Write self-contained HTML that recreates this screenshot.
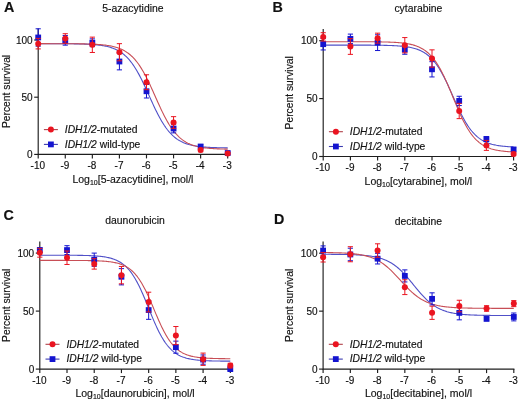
<!DOCTYPE html>
<html><head><meta charset="utf-8"><style>
html,body{margin:0;padding:0;background:#fff;}
body{width:520px;height:402px;overflow:hidden;}
svg{display:block;font-family:"Liberation Sans", sans-serif;filter:blur(0.35px);}
text{stroke:#111;stroke-width:0.15px;}
</style></head><body>
<svg width="520" height="402" viewBox="0 0 520 402">
<rect width="520" height="402" fill="#fff"/>
<text x="4" y="12.1" font-size="14.3" font-weight="bold" fill="#111">A</text>
<text x="132.95" y="12.20" font-size="10.4" text-anchor="middle" fill="#111">5-azacytidine</text>
<path d="M38.20,28.56 V154.40 H228.30" stroke="#1e1e1e" stroke-width="1.15" fill="none"/>
<path d="M34.20,154.40 H38.20" stroke="#1e1e1e" stroke-width="1.15"/>
<text x="32.60" y="157.90" font-size="10" text-anchor="end" fill="#111">0</text>
<path d="M34.20,97.20 H38.20" stroke="#1e1e1e" stroke-width="1.15"/>
<text x="32.60" y="100.70" font-size="10" text-anchor="end" fill="#111">50</text>
<path d="M34.20,40.00 H38.20" stroke="#1e1e1e" stroke-width="1.15"/>
<text x="32.60" y="43.50" font-size="10" text-anchor="end" fill="#111">100</text>
<path d="M38.20,154.40 V158.40" stroke="#1e1e1e" stroke-width="1.15"/>
<text x="37.80" y="168.90" font-size="10" text-anchor="middle" fill="#111">-10</text>
<path d="M65.27,154.40 V158.40" stroke="#1e1e1e" stroke-width="1.15"/>
<text x="64.87" y="168.90" font-size="10" text-anchor="middle" fill="#111">-9</text>
<path d="M92.34,154.40 V158.40" stroke="#1e1e1e" stroke-width="1.15"/>
<text x="91.94" y="168.90" font-size="10" text-anchor="middle" fill="#111">-8</text>
<path d="M119.41,154.40 V158.40" stroke="#1e1e1e" stroke-width="1.15"/>
<text x="119.01" y="168.90" font-size="10" text-anchor="middle" fill="#111">-7</text>
<path d="M146.49,154.40 V158.40" stroke="#1e1e1e" stroke-width="1.15"/>
<text x="146.09" y="168.90" font-size="10" text-anchor="middle" fill="#111">-6</text>
<path d="M173.56,154.40 V158.40" stroke="#1e1e1e" stroke-width="1.15"/>
<text x="173.16" y="168.90" font-size="10" text-anchor="middle" fill="#111">-5</text>
<path d="M200.63,154.40 V158.40" stroke="#1e1e1e" stroke-width="1.15"/>
<text x="200.23" y="168.90" font-size="10" text-anchor="middle" fill="#111">-4</text>
<path d="M227.70,154.40 V158.40" stroke="#1e1e1e" stroke-width="1.15"/>
<text x="227.30" y="168.90" font-size="10" text-anchor="middle" fill="#111">-3</text>
<text x="132.95" y="182.60" font-size="10.5" text-anchor="middle" fill="#111">Log<tspan font-size="7" dy="2">10</tspan><tspan dy="-2">[5-azacytidine], mol/l</tspan></text>
<text transform="translate(9.5,91.48) rotate(-90)" font-size="10.3" text-anchor="middle" fill="#111">Percent survival</text>
<path d="M38.20,43.67 L39.15,43.67 L40.10,43.67 L41.04,43.67 L41.99,43.67 L42.94,43.67 L43.89,43.67 L44.83,43.68 L45.78,43.68 L46.73,43.68 L47.67,43.68 L48.62,43.68 L49.57,43.68 L50.52,43.68 L51.47,43.69 L52.41,43.69 L53.36,43.69 L54.31,43.69 L55.26,43.70 L56.20,43.70 L57.15,43.70 L58.10,43.71 L59.04,43.71 L59.99,43.71 L60.94,43.72 L61.89,43.72 L62.84,43.73 L63.78,43.73 L64.73,43.74 L65.68,43.75 L66.63,43.75 L67.57,43.76 L68.52,43.77 L69.47,43.78 L70.41,43.79 L71.36,43.80 L72.31,43.81 L73.26,43.82 L74.21,43.84 L75.15,43.85 L76.10,43.87 L77.05,43.89 L78.00,43.90 L78.94,43.93 L79.89,43.95 L80.84,43.97 L81.78,44.00 L82.73,44.03 L83.68,44.06 L84.63,44.09 L85.58,44.12 L86.52,44.16 L87.47,44.21 L88.42,44.25 L89.37,44.30 L90.31,44.35 L91.26,44.41 L92.21,44.47 L93.15,44.54 L94.10,44.61 L95.05,44.69 L96.00,44.78 L96.95,44.87 L97.89,44.97 L98.84,45.08 L99.79,45.20 L100.74,45.33 L101.68,45.46 L102.63,45.61 L103.58,45.77 L104.53,45.95 L105.47,46.13 L106.42,46.33 L107.37,46.55 L108.31,46.79 L109.26,47.04 L110.21,47.32 L111.16,47.61 L112.11,47.93 L113.05,48.27 L114.00,48.64 L114.95,49.04 L115.90,49.46 L116.84,49.92 L117.79,50.41 L118.74,50.94 L119.69,51.50 L120.63,52.11 L121.58,52.76 L122.53,53.45 L123.48,54.19 L124.42,54.97 L125.37,55.81 L126.32,56.70 L127.27,57.65 L128.21,58.66 L129.16,59.72 L130.11,60.85 L131.06,62.04 L132.00,63.29 L132.95,64.61 L133.90,65.99 L134.85,67.44 L135.79,68.95 L136.74,70.52 L137.69,72.16 L138.63,73.86 L139.58,75.62 L140.53,77.43 L141.48,79.30 L142.43,81.21 L143.37,83.17 L144.32,85.17 L145.27,87.20 L146.22,89.26 L147.16,91.33 L148.11,93.43 L149.06,95.53 L150.00,97.63 L150.95,99.72 L151.90,101.81 L152.85,103.87 L153.80,105.91 L154.74,107.92 L155.69,109.89 L156.64,111.81 L157.59,113.69 L158.53,115.52 L159.48,117.30 L160.43,119.01 L161.38,120.67 L162.32,122.26 L163.27,123.79 L164.22,125.26 L165.17,126.66 L166.11,127.99 L167.06,129.27 L168.01,130.47 L168.95,131.62 L169.90,132.70 L170.85,133.72 L171.80,134.68 L172.75,135.59 L173.69,136.45 L174.64,137.25 L175.59,138.00 L176.54,138.71 L177.48,139.37 L178.43,139.98 L179.38,140.56 L180.32,141.10 L181.27,141.60 L182.22,142.06 L183.17,142.50 L184.12,142.90 L185.06,143.28 L186.01,143.63 L186.96,143.95 L187.91,144.26 L188.85,144.54 L189.80,144.80 L190.75,145.04 L191.69,145.26 L192.64,145.47 L193.59,145.66 L194.54,145.83 L195.49,146.00 L196.43,146.15 L197.38,146.29 L198.33,146.42 L199.28,146.54 L200.22,146.65 L201.17,146.75 L202.12,146.85 L203.06,146.94 L204.01,147.02 L204.96,147.09 L205.91,147.16 L206.86,147.23 L207.80,147.28 L208.75,147.34 L209.70,147.39 L210.65,147.44 L211.59,147.48 L212.54,147.52 L213.49,147.56 L214.44,147.59 L215.38,147.62 L216.33,147.65 L217.28,147.68 L218.23,147.70 L219.17,147.72 L220.12,147.74 L221.07,147.76 L222.01,147.78 L222.96,147.80 L223.91,147.81 L224.86,147.83 L225.81,147.84 L226.75,147.85 L227.70,147.86" stroke="#5050c8" stroke-width="1.1" fill="none"/>
<path d="M38.20,43.67 L39.15,43.67 L40.10,43.67 L41.04,43.67 L41.99,43.67 L42.94,43.67 L43.89,43.67 L44.83,43.67 L45.78,43.67 L46.73,43.67 L47.67,43.67 L48.62,43.67 L49.57,43.67 L50.52,43.68 L51.47,43.68 L52.41,43.68 L53.36,43.68 L54.31,43.68 L55.26,43.68 L56.20,43.68 L57.15,43.69 L58.10,43.69 L59.04,43.69 L59.99,43.69 L60.94,43.70 L61.89,43.70 L62.84,43.70 L63.78,43.70 L64.73,43.71 L65.68,43.71 L66.63,43.72 L67.57,43.72 L68.52,43.73 L69.47,43.73 L70.41,43.74 L71.36,43.74 L72.31,43.75 L73.26,43.76 L74.21,43.77 L75.15,43.78 L76.10,43.79 L77.05,43.80 L78.00,43.81 L78.94,43.82 L79.89,43.83 L80.84,43.85 L81.78,43.86 L82.73,43.88 L83.68,43.90 L84.63,43.92 L85.58,43.94 L86.52,43.96 L87.47,43.99 L88.42,44.02 L89.37,44.05 L90.31,44.08 L91.26,44.11 L92.21,44.15 L93.15,44.19 L94.10,44.24 L95.05,44.29 L96.00,44.34 L96.95,44.40 L97.89,44.46 L98.84,44.52 L99.79,44.59 L100.74,44.67 L101.68,44.76 L102.63,44.85 L103.58,44.95 L104.53,45.05 L105.47,45.17 L106.42,45.29 L107.37,45.43 L108.31,45.57 L109.26,45.73 L110.21,45.90 L111.16,46.08 L112.11,46.28 L113.05,46.49 L114.00,46.73 L114.95,46.97 L115.90,47.24 L116.84,47.53 L117.79,47.84 L118.74,48.18 L119.69,48.54 L120.63,48.93 L121.58,49.35 L122.53,49.80 L123.48,50.28 L124.42,50.80 L125.37,51.36 L126.32,51.95 L127.27,52.59 L128.21,53.27 L129.16,54.00 L130.11,54.77 L131.06,55.60 L132.00,56.48 L132.95,57.42 L133.90,58.41 L134.85,59.46 L135.79,60.58 L136.74,61.76 L137.69,63.00 L138.63,64.30 L139.58,65.67 L140.53,67.11 L141.48,68.62 L142.43,70.18 L143.37,71.82 L144.32,73.51 L145.27,75.27 L146.22,77.08 L147.16,78.95 L148.11,80.87 L149.06,82.84 L150.00,84.84 L150.95,86.89 L151.90,88.96 L152.85,91.06 L153.80,93.17 L154.74,95.30 L155.69,97.43 L156.64,99.55 L157.59,101.67 L158.53,103.77 L159.48,105.85 L160.43,107.89 L161.38,109.91 L162.32,111.88 L163.27,113.80 L164.22,115.68 L165.17,117.50 L166.11,119.27 L167.06,120.97 L168.01,122.61 L168.95,124.19 L169.90,125.70 L170.85,127.15 L171.80,128.53 L172.75,129.85 L173.69,131.10 L174.64,132.28 L175.59,133.41 L176.54,134.47 L177.48,135.47 L178.43,136.41 L179.38,137.30 L180.32,138.14 L181.27,138.92 L182.22,139.66 L183.17,140.34 L184.12,140.99 L185.06,141.59 L186.01,142.15 L186.96,142.67 L187.91,143.16 L188.85,143.61 L189.80,144.04 L190.75,144.43 L191.69,144.80 L192.64,145.14 L193.59,145.45 L194.54,145.74 L195.49,146.02 L196.43,146.27 L197.38,146.50 L198.33,146.72 L199.28,146.92 L200.22,147.10 L201.17,147.28 L202.12,147.43 L203.06,147.58 L204.01,147.72 L204.96,147.84 L205.91,147.96 L206.86,148.07 L207.80,148.17 L208.75,148.26 L209.70,148.34 L210.65,148.42 L211.59,148.49 L212.54,148.56 L213.49,148.62 L214.44,148.68 L215.38,148.73 L216.33,148.78 L217.28,148.83 L218.23,148.87 L219.17,148.91 L220.12,148.94 L221.07,148.98 L222.01,149.01 L222.96,149.03 L223.91,149.06 L224.86,149.08 L225.81,149.10 L226.75,149.12 L227.70,149.14" stroke="#c84e56" stroke-width="1.1" fill="none"/>
<path d="M38.20,28.79 V46.18 M35.60,28.79 H40.80 M35.60,46.18 H40.80" stroke="#1414d0" stroke-width="1" fill="none"/>
<rect x="35.30" y="34.58" width="5.8" height="5.8" fill="#1414d0"/>
<path d="M65.27,35.54 V45.15 M62.67,35.54 H67.87 M62.67,45.15 H67.87" stroke="#1414d0" stroke-width="1" fill="none"/>
<rect x="62.37" y="37.44" width="5.8" height="5.8" fill="#1414d0"/>
<path d="M92.34,38.86 V46.64 M89.74,38.86 H94.94 M89.74,46.64 H94.94" stroke="#1414d0" stroke-width="1" fill="none"/>
<rect x="89.44" y="39.85" width="5.8" height="5.8" fill="#1414d0"/>
<path d="M119.41,53.16 V69.86 M116.81,53.16 H122.01 M116.81,69.86 H122.01" stroke="#1414d0" stroke-width="1" fill="none"/>
<rect x="116.51" y="58.61" width="5.8" height="5.8" fill="#1414d0"/>
<path d="M146.49,84.50 V98.00 M143.89,84.50 H149.09 M143.89,98.00 H149.09" stroke="#1414d0" stroke-width="1" fill="none"/>
<rect x="143.59" y="88.35" width="5.8" height="5.8" fill="#1414d0"/>
<path d="M173.56,124.20 V132.89 M170.96,124.20 H176.16 M170.96,132.89 H176.16" stroke="#1414d0" stroke-width="1" fill="none"/>
<rect x="170.66" y="125.65" width="5.8" height="5.8" fill="#1414d0"/>
<path d="M200.63,144.79 V148.22 M198.03,144.79 H203.23 M198.03,148.22 H203.23" stroke="#1414d0" stroke-width="1" fill="none"/>
<rect x="197.73" y="143.61" width="5.8" height="5.8" fill="#1414d0"/>
<path d="M227.70,151.88 V154.17 M225.10,151.88 H230.30 M225.10,154.17 H230.30" stroke="#1414d0" stroke-width="1" fill="none"/>
<rect x="224.80" y="150.13" width="5.8" height="5.8" fill="#1414d0"/>
<path d="M38.20,38.40 V48.92 M35.60,38.40 H40.80 M35.60,48.92 H40.80" stroke="#ea1420" stroke-width="1" fill="none"/>
<circle cx="38.20" cy="43.66" r="3.0" fill="#ea1420"/>
<path d="M65.27,33.71 V43.32 M62.67,33.71 H67.87 M62.67,43.32 H67.87" stroke="#ea1420" stroke-width="1" fill="none"/>
<circle cx="65.27" cy="38.51" r="3.0" fill="#ea1420"/>
<path d="M92.34,37.14 V52.47 M89.74,37.14 H94.94 M89.74,52.47 H94.94" stroke="#ea1420" stroke-width="1" fill="none"/>
<circle cx="92.34" cy="44.80" r="3.0" fill="#ea1420"/>
<path d="M119.41,43.66 V60.82 M116.81,43.66 H122.01 M116.81,60.82 H122.01" stroke="#ea1420" stroke-width="1" fill="none"/>
<circle cx="119.41" cy="52.24" r="3.0" fill="#ea1420"/>
<path d="M146.49,74.78 V89.65 M143.89,74.78 H149.09 M143.89,89.65 H149.09" stroke="#ea1420" stroke-width="1" fill="none"/>
<circle cx="146.49" cy="82.21" r="3.0" fill="#ea1420"/>
<path d="M173.56,116.65 V128.32 M170.96,116.65 H176.16 M170.96,128.32 H176.16" stroke="#ea1420" stroke-width="1" fill="none"/>
<circle cx="173.56" cy="122.48" r="3.0" fill="#ea1420"/>
<path d="M200.63,148.34 V151.77 M198.03,148.34 H203.23 M198.03,151.77 H203.23" stroke="#ea1420" stroke-width="1" fill="none"/>
<circle cx="200.63" cy="150.05" r="3.0" fill="#ea1420"/>
<path d="M227.70,152.46 V154.74 M225.10,152.46 H230.30 M225.10,154.74 H230.30" stroke="#ea1420" stroke-width="1" fill="none"/>
<circle cx="227.70" cy="153.60" r="3.0" fill="#ea1420"/>
<path d="M43.90,129.60 H57.90" stroke="#b04048" stroke-width="1.1"/>
<circle cx="50.90" cy="129.60" r="3.0" fill="#ea1420"/>
<text x="64.80" y="132.80" font-size="10.3" fill="#111"><tspan font-style="italic">IDH1/2</tspan>-mutated</text>
<path d="M43.90,144.40 H57.90" stroke="#3c3cb0" stroke-width="1.1"/>
<rect x="48.00" y="141.50" width="5.8" height="5.8" fill="#1414d0"/>
<text x="64.80" y="147.60" font-size="10.3" fill="#111"><tspan font-style="italic">IDH1/2</tspan> wild-type</text>
<text x="272.4" y="12.3" font-size="14.3" font-weight="bold" fill="#111">B</text>
<text x="418.40" y="12.30" font-size="10.4" text-anchor="middle" fill="#111">cytarabine</text>
<path d="M323.20,29.12 V156.50 H514.20" stroke="#1e1e1e" stroke-width="1.15" fill="none"/>
<path d="M319.20,156.50 H323.20" stroke="#1e1e1e" stroke-width="1.15"/>
<text x="317.60" y="160.00" font-size="10" text-anchor="end" fill="#111">0</text>
<path d="M319.20,98.60 H323.20" stroke="#1e1e1e" stroke-width="1.15"/>
<text x="317.60" y="102.10" font-size="10" text-anchor="end" fill="#111">50</text>
<path d="M319.20,40.70 H323.20" stroke="#1e1e1e" stroke-width="1.15"/>
<text x="317.60" y="44.20" font-size="10" text-anchor="end" fill="#111">100</text>
<path d="M323.20,156.50 V160.50" stroke="#1e1e1e" stroke-width="1.15"/>
<text x="322.80" y="171.00" font-size="10" text-anchor="middle" fill="#111">-10</text>
<path d="M350.40,156.50 V160.50" stroke="#1e1e1e" stroke-width="1.15"/>
<text x="350.00" y="171.00" font-size="10" text-anchor="middle" fill="#111">-9</text>
<path d="M377.60,156.50 V160.50" stroke="#1e1e1e" stroke-width="1.15"/>
<text x="377.20" y="171.00" font-size="10" text-anchor="middle" fill="#111">-8</text>
<path d="M404.80,156.50 V160.50" stroke="#1e1e1e" stroke-width="1.15"/>
<text x="404.40" y="171.00" font-size="10" text-anchor="middle" fill="#111">-7</text>
<path d="M432.00,156.50 V160.50" stroke="#1e1e1e" stroke-width="1.15"/>
<text x="431.60" y="171.00" font-size="10" text-anchor="middle" fill="#111">-6</text>
<path d="M459.20,156.50 V160.50" stroke="#1e1e1e" stroke-width="1.15"/>
<text x="458.80" y="171.00" font-size="10" text-anchor="middle" fill="#111">-5</text>
<path d="M486.40,156.50 V160.50" stroke="#1e1e1e" stroke-width="1.15"/>
<text x="486.00" y="171.00" font-size="10" text-anchor="middle" fill="#111">-4</text>
<path d="M513.60,156.50 V160.50" stroke="#1e1e1e" stroke-width="1.15"/>
<text x="513.20" y="171.00" font-size="10" text-anchor="middle" fill="#111">-3</text>
<text x="418.40" y="184.70" font-size="10.5" text-anchor="middle" fill="#111">Log<tspan font-size="7" dy="2">10</tspan><tspan dy="-2">[cytarabine], mol/l</tspan></text>
<text transform="translate(293.3,92.81) rotate(-90)" font-size="10.3" text-anchor="middle" fill="#111">Percent survival</text>
<path d="M323.20,45.10 L324.15,45.10 L325.10,45.10 L326.06,45.10 L327.01,45.10 L327.96,45.10 L328.91,45.10 L329.86,45.10 L330.82,45.10 L331.77,45.10 L332.72,45.10 L333.67,45.10 L334.62,45.10 L335.58,45.10 L336.53,45.10 L337.48,45.10 L338.43,45.10 L339.38,45.10 L340.34,45.11 L341.29,45.11 L342.24,45.11 L343.19,45.11 L344.14,45.11 L345.10,45.11 L346.05,45.11 L347.00,45.11 L347.95,45.11 L348.90,45.11 L349.86,45.11 L350.81,45.11 L351.76,45.11 L352.71,45.12 L353.66,45.12 L354.62,45.12 L355.57,45.12 L356.52,45.12 L357.47,45.12 L358.42,45.12 L359.38,45.13 L360.33,45.13 L361.28,45.13 L362.23,45.13 L363.18,45.14 L364.14,45.14 L365.09,45.14 L366.04,45.15 L366.99,45.15 L367.94,45.16 L368.90,45.16 L369.85,45.17 L370.80,45.17 L371.75,45.18 L372.70,45.19 L373.66,45.19 L374.61,45.20 L375.56,45.21 L376.51,45.22 L377.46,45.23 L378.42,45.24 L379.37,45.26 L380.32,45.27 L381.27,45.28 L382.22,45.30 L383.18,45.32 L384.13,45.34 L385.08,45.36 L386.03,45.38 L386.98,45.40 L387.94,45.43 L388.89,45.46 L389.84,45.49 L390.79,45.52 L391.74,45.56 L392.70,45.60 L393.65,45.65 L394.60,45.69 L395.55,45.74 L396.50,45.80 L397.46,45.86 L398.41,45.93 L399.36,46.00 L400.31,46.08 L401.26,46.16 L402.22,46.25 L403.17,46.35 L404.12,46.46 L405.07,46.58 L406.02,46.71 L406.98,46.84 L407.93,46.99 L408.88,47.16 L409.83,47.33 L410.78,47.52 L411.74,47.73 L412.69,47.95 L413.64,48.20 L414.59,48.46 L415.54,48.74 L416.50,49.05 L417.45,49.38 L418.40,49.74 L419.35,50.13 L420.30,50.54 L421.26,50.99 L422.21,51.48 L423.16,52.00 L424.11,52.56 L425.06,53.16 L426.02,53.81 L426.97,54.50 L427.92,55.24 L428.87,56.03 L429.82,56.88 L430.78,57.78 L431.73,58.75 L432.68,59.77 L433.63,60.86 L434.58,62.01 L435.54,63.23 L436.49,64.52 L437.44,65.87 L438.39,67.30 L439.34,68.79 L440.30,70.35 L441.25,71.99 L442.20,73.68 L443.15,75.44 L444.10,77.27 L445.06,79.15 L446.01,81.08 L446.96,83.06 L447.91,85.09 L448.86,87.15 L449.82,89.25 L450.77,91.37 L451.72,93.50 L452.67,95.65 L453.62,97.79 L454.58,99.94 L455.53,102.07 L456.48,104.18 L457.43,106.26 L458.38,108.31 L459.34,110.31 L460.29,112.28 L461.24,114.19 L462.19,116.04 L463.14,117.84 L464.10,119.57 L465.05,121.24 L466.00,122.85 L466.95,124.38 L467.90,125.84 L468.86,127.24 L469.81,128.56 L470.76,129.82 L471.71,131.01 L472.66,132.14 L473.62,133.20 L474.57,134.19 L475.52,135.13 L476.47,136.01 L477.42,136.84 L478.38,137.61 L479.33,138.33 L480.28,139.00 L481.23,139.63 L482.18,140.21 L483.14,140.75 L484.09,141.26 L485.04,141.73 L485.99,142.16 L486.94,142.56 L487.90,142.94 L488.85,143.29 L489.80,143.61 L490.75,143.90 L491.70,144.18 L492.66,144.43 L493.61,144.67 L494.56,144.88 L495.51,145.08 L496.46,145.27 L497.42,145.44 L498.37,145.59 L499.32,145.74 L500.27,145.87 L501.22,145.99 L502.18,146.11 L503.13,146.21 L504.08,146.31 L505.03,146.40 L505.98,146.48 L506.94,146.55 L507.89,146.62 L508.84,146.69 L509.79,146.75 L510.74,146.80 L511.70,146.85 L512.65,146.90 L513.60,146.94" stroke="#5050c8" stroke-width="1.1" fill="none"/>
<path d="M323.20,41.71 L324.15,41.71 L325.10,41.71 L326.06,41.71 L327.01,41.71 L327.96,41.71 L328.91,41.71 L329.86,41.71 L330.82,41.71 L331.77,41.71 L332.72,41.71 L333.67,41.71 L334.62,41.71 L335.58,41.71 L336.53,41.71 L337.48,41.71 L338.43,41.71 L339.38,41.71 L340.34,41.71 L341.29,41.71 L342.24,41.71 L343.19,41.71 L344.14,41.72 L345.10,41.72 L346.05,41.72 L347.00,41.72 L347.95,41.72 L348.90,41.72 L349.86,41.72 L350.81,41.72 L351.76,41.72 L352.71,41.72 L353.66,41.73 L354.62,41.73 L355.57,41.73 L356.52,41.73 L357.47,41.73 L358.42,41.73 L359.38,41.74 L360.33,41.74 L361.28,41.74 L362.23,41.75 L363.18,41.75 L364.14,41.75 L365.09,41.76 L366.04,41.76 L366.99,41.77 L367.94,41.77 L368.90,41.78 L369.85,41.78 L370.80,41.79 L371.75,41.80 L372.70,41.80 L373.66,41.81 L374.61,41.82 L375.56,41.83 L376.51,41.84 L377.46,41.85 L378.42,41.87 L379.37,41.88 L380.32,41.89 L381.27,41.91 L382.22,41.93 L383.18,41.95 L384.13,41.97 L385.08,41.99 L386.03,42.02 L386.98,42.04 L387.94,42.07 L388.89,42.10 L389.84,42.14 L390.79,42.18 L391.74,42.22 L392.70,42.26 L393.65,42.31 L394.60,42.36 L395.55,42.42 L396.50,42.48 L397.46,42.55 L398.41,42.62 L399.36,42.70 L400.31,42.78 L401.26,42.88 L402.22,42.98 L403.17,43.09 L404.12,43.21 L405.07,43.33 L406.02,43.47 L406.98,43.62 L407.93,43.79 L408.88,43.97 L409.83,44.16 L410.78,44.37 L411.74,44.59 L412.69,44.84 L413.64,45.10 L414.59,45.39 L415.54,45.70 L416.50,46.04 L417.45,46.40 L418.40,46.79 L419.35,47.21 L420.30,47.66 L421.26,48.15 L422.21,48.68 L423.16,49.25 L424.11,49.86 L425.06,50.51 L426.02,51.21 L426.97,51.97 L427.92,52.77 L428.87,53.63 L429.82,54.55 L430.78,55.53 L431.73,56.58 L432.68,57.69 L433.63,58.87 L434.58,60.11 L435.54,61.43 L436.49,62.83 L437.44,64.29 L438.39,65.84 L439.34,67.45 L440.30,69.14 L441.25,70.91 L442.20,72.74 L443.15,74.64 L444.10,76.61 L445.06,78.64 L446.01,80.73 L446.96,82.87 L447.91,85.05 L448.86,87.28 L449.82,89.54 L450.77,91.83 L451.72,94.13 L452.67,96.44 L453.62,98.76 L454.58,101.07 L455.53,103.37 L456.48,105.64 L457.43,107.89 L458.38,110.10 L459.34,112.27 L460.29,114.39 L461.24,116.45 L462.19,118.45 L463.14,120.39 L464.10,122.27 L465.05,124.07 L466.00,125.80 L466.95,127.46 L467.90,129.05 L468.86,130.56 L469.81,131.99 L470.76,133.35 L471.71,134.64 L472.66,135.86 L473.62,137.01 L474.57,138.09 L475.52,139.11 L476.47,140.06 L477.42,140.96 L478.38,141.79 L479.33,142.58 L480.28,143.31 L481.23,143.99 L482.18,144.62 L483.14,145.21 L484.09,145.76 L485.04,146.27 L485.99,146.75 L486.94,147.19 L487.90,147.60 L488.85,147.97 L489.80,148.32 L490.75,148.65 L491.70,148.95 L492.66,149.22 L493.61,149.48 L494.56,149.72 L495.51,149.94 L496.46,150.14 L497.42,150.32 L498.37,150.50 L499.32,150.65 L500.27,150.80 L501.22,150.93 L502.18,151.06 L503.13,151.17 L504.08,151.28 L505.03,151.38 L505.98,151.47 L506.94,151.55 L507.89,151.63 L508.84,151.70 L509.79,151.76 L510.74,151.82 L511.70,151.87 L512.65,151.92 L513.60,151.97" stroke="#c84e56" stroke-width="1.1" fill="none"/>
<path d="M323.20,38.38 V49.96 M320.60,38.38 H325.80 M320.60,49.96 H325.80" stroke="#1414d0" stroke-width="1" fill="none"/>
<rect x="320.30" y="41.27" width="5.8" height="5.8" fill="#1414d0"/>
<path d="M350.40,34.10 V43.60 M347.80,34.10 H353.00 M347.80,43.60 H353.00" stroke="#1414d0" stroke-width="1" fill="none"/>
<rect x="347.50" y="35.95" width="5.8" height="5.8" fill="#1414d0"/>
<path d="M377.60,34.79 V50.54 M375.00,34.79 H380.20 M375.00,50.54 H380.20" stroke="#1414d0" stroke-width="1" fill="none"/>
<rect x="374.70" y="39.77" width="5.8" height="5.8" fill="#1414d0"/>
<path d="M404.80,44.98 V54.25 M402.20,44.98 H407.40 M402.20,54.25 H407.40" stroke="#1414d0" stroke-width="1" fill="none"/>
<rect x="401.90" y="46.72" width="5.8" height="5.8" fill="#1414d0"/>
<path d="M432.00,61.66 V76.95 M429.40,61.66 H434.60 M429.40,76.95 H434.60" stroke="#1414d0" stroke-width="1" fill="none"/>
<rect x="429.10" y="66.40" width="5.8" height="5.8" fill="#1414d0"/>
<path d="M459.20,96.28 V105.55 M456.60,96.28 H461.80 M456.60,105.55 H461.80" stroke="#1414d0" stroke-width="1" fill="none"/>
<rect x="456.30" y="98.02" width="5.8" height="5.8" fill="#1414d0"/>
<path d="M486.40,136.58 V141.68 M483.80,136.58 H489.00 M483.80,141.68 H489.00" stroke="#1414d0" stroke-width="1" fill="none"/>
<rect x="483.50" y="136.23" width="5.8" height="5.8" fill="#1414d0"/>
<path d="M513.60,147.70 V151.17 M511.00,147.70 H516.20 M511.00,151.17 H516.20" stroke="#1414d0" stroke-width="1" fill="none"/>
<rect x="510.70" y="146.54" width="5.8" height="5.8" fill="#1414d0"/>
<path d="M323.20,32.71 V41.05 M320.60,32.71 H325.80 M320.60,41.05 H325.80" stroke="#ea1420" stroke-width="1" fill="none"/>
<circle cx="323.20" cy="36.88" r="3.0" fill="#ea1420"/>
<path d="M350.40,38.62 V54.36 M347.80,38.62 H353.00 M347.80,54.36 H353.00" stroke="#ea1420" stroke-width="1" fill="none"/>
<circle cx="350.40" cy="46.49" r="3.0" fill="#ea1420"/>
<path d="M377.60,33.17 V43.13 M375.00,33.17 H380.20 M375.00,43.13 H380.20" stroke="#ea1420" stroke-width="1" fill="none"/>
<circle cx="377.60" cy="38.15" r="3.0" fill="#ea1420"/>
<path d="M404.80,37.57 V52.86 M402.20,37.57 H407.40 M402.20,52.86 H407.40" stroke="#ea1420" stroke-width="1" fill="none"/>
<circle cx="404.80" cy="45.22" r="3.0" fill="#ea1420"/>
<path d="M432.00,49.85 V67.22 M429.40,49.85 H434.60 M429.40,67.22 H434.60" stroke="#ea1420" stroke-width="1" fill="none"/>
<circle cx="432.00" cy="58.53" r="3.0" fill="#ea1420"/>
<path d="M459.20,103.35 V118.63 M456.60,103.35 H461.80 M456.60,118.63 H461.80" stroke="#ea1420" stroke-width="1" fill="none"/>
<circle cx="459.20" cy="110.99" r="3.0" fill="#ea1420"/>
<path d="M486.40,140.40 V150.36 M483.80,140.40 H489.00 M483.80,150.36 H489.00" stroke="#ea1420" stroke-width="1" fill="none"/>
<circle cx="486.40" cy="145.38" r="3.0" fill="#ea1420"/>
<path d="M513.60,152.22 V155.69 M511.00,152.22 H516.20 M511.00,155.69 H516.20" stroke="#ea1420" stroke-width="1" fill="none"/>
<circle cx="513.60" cy="153.95" r="3.0" fill="#ea1420"/>
<path d="M328.90,131.70 H342.90" stroke="#b04048" stroke-width="1.1"/>
<circle cx="335.90" cy="131.70" r="3.0" fill="#ea1420"/>
<text x="349.80" y="134.90" font-size="10.3" fill="#111"><tspan font-style="italic">IDH1/2</tspan>-mutated</text>
<path d="M328.90,146.50 H342.90" stroke="#3c3cb0" stroke-width="1.1"/>
<rect x="333.00" y="143.60" width="5.8" height="5.8" fill="#1414d0"/>
<text x="349.80" y="149.70" font-size="10.3" fill="#111"><tspan font-style="italic">IDH1/2</tspan> wild-type</text>
<text x="3.4" y="219.8" font-size="14.3" font-weight="bold" fill="#111">C</text>
<text x="135.05" y="224.20" font-size="10.4" text-anchor="middle" fill="#111">daunorubicin</text>
<path d="M39.80,241.50 V369.10 H230.90" stroke="#1e1e1e" stroke-width="1.15" fill="none"/>
<path d="M35.80,369.10 H39.80" stroke="#1e1e1e" stroke-width="1.15"/>
<text x="34.20" y="372.60" font-size="10" text-anchor="end" fill="#111">0</text>
<path d="M35.80,311.10 H39.80" stroke="#1e1e1e" stroke-width="1.15"/>
<text x="34.20" y="314.60" font-size="10" text-anchor="end" fill="#111">50</text>
<path d="M35.80,253.10 H39.80" stroke="#1e1e1e" stroke-width="1.15"/>
<text x="34.20" y="256.60" font-size="10" text-anchor="end" fill="#111">100</text>
<path d="M39.80,369.10 V373.10" stroke="#1e1e1e" stroke-width="1.15"/>
<text x="39.40" y="383.60" font-size="10" text-anchor="middle" fill="#111">-10</text>
<path d="M67.01,369.10 V373.10" stroke="#1e1e1e" stroke-width="1.15"/>
<text x="66.61" y="383.60" font-size="10" text-anchor="middle" fill="#111">-9</text>
<path d="M94.23,369.10 V373.10" stroke="#1e1e1e" stroke-width="1.15"/>
<text x="93.83" y="383.60" font-size="10" text-anchor="middle" fill="#111">-8</text>
<path d="M121.44,369.10 V373.10" stroke="#1e1e1e" stroke-width="1.15"/>
<text x="121.04" y="383.60" font-size="10" text-anchor="middle" fill="#111">-7</text>
<path d="M148.66,369.10 V373.10" stroke="#1e1e1e" stroke-width="1.15"/>
<text x="148.26" y="383.60" font-size="10" text-anchor="middle" fill="#111">-6</text>
<path d="M175.87,369.10 V373.10" stroke="#1e1e1e" stroke-width="1.15"/>
<text x="175.47" y="383.60" font-size="10" text-anchor="middle" fill="#111">-5</text>
<path d="M203.09,369.10 V373.10" stroke="#1e1e1e" stroke-width="1.15"/>
<text x="202.69" y="383.60" font-size="10" text-anchor="middle" fill="#111">-4</text>
<path d="M230.30,369.10 V373.10" stroke="#1e1e1e" stroke-width="1.15"/>
<text x="229.90" y="383.60" font-size="10" text-anchor="middle" fill="#111">-3</text>
<text x="135.05" y="397.30" font-size="10.5" text-anchor="middle" fill="#111">Log<tspan font-size="7" dy="2">10</tspan><tspan dy="-2">[daunorubicin], mol/l</tspan></text>
<text transform="translate(9.6,305.30) rotate(-90)" font-size="10.3" text-anchor="middle" fill="#111">Percent survival</text>
<path d="M39.80,255.19 L40.75,255.19 L41.71,255.19 L42.66,255.19 L43.61,255.19 L44.56,255.19 L45.52,255.20 L46.47,255.20 L47.42,255.20 L48.37,255.20 L49.32,255.20 L50.28,255.20 L51.23,255.20 L52.18,255.20 L53.14,255.20 L54.09,255.20 L55.04,255.21 L55.99,255.21 L56.95,255.21 L57.90,255.21 L58.85,255.21 L59.80,255.22 L60.75,255.22 L61.71,255.22 L62.66,255.22 L63.61,255.23 L64.56,255.23 L65.52,255.23 L66.47,255.24 L67.42,255.24 L68.38,255.25 L69.33,255.25 L70.28,255.26 L71.23,255.27 L72.18,255.27 L73.14,255.28 L74.09,255.29 L75.04,255.30 L76.00,255.31 L76.95,255.32 L77.90,255.33 L78.85,255.35 L79.81,255.36 L80.76,255.38 L81.71,255.40 L82.66,255.42 L83.61,255.44 L84.57,255.46 L85.52,255.48 L86.47,255.51 L87.42,255.54 L88.38,255.57 L89.33,255.61 L90.28,255.65 L91.24,255.69 L92.19,255.74 L93.14,255.79 L94.09,255.84 L95.04,255.90 L96.00,255.97 L96.95,256.04 L97.90,256.12 L98.85,256.21 L99.81,256.30 L100.76,256.40 L101.71,256.51 L102.67,256.63 L103.62,256.77 L104.57,256.91 L105.52,257.07 L106.48,257.24 L107.43,257.42 L108.38,257.63 L109.33,257.85 L110.28,258.09 L111.24,258.35 L112.19,258.63 L113.14,258.94 L114.10,259.27 L115.05,259.64 L116.00,260.03 L116.95,260.46 L117.91,260.92 L118.86,261.42 L119.81,261.96 L120.76,262.54 L121.71,263.18 L122.67,263.85 L123.62,264.59 L124.57,265.37 L125.53,266.22 L126.48,267.13 L127.43,268.10 L128.38,269.14 L129.34,270.25 L130.29,271.43 L131.24,272.69 L132.19,274.02 L133.14,275.44 L134.10,276.93 L135.05,278.50 L136.00,280.15 L136.96,281.88 L137.91,283.69 L138.86,285.58 L139.81,287.53 L140.76,289.56 L141.72,291.65 L142.67,293.80 L143.62,296.00 L144.57,298.25 L145.53,300.53 L146.48,302.85 L147.43,305.18 L148.38,307.53 L149.34,309.88 L150.29,312.22 L151.24,314.55 L152.19,316.85 L153.15,319.12 L154.10,321.35 L155.05,323.53 L156.00,325.65 L156.96,327.72 L157.91,329.71 L158.86,331.64 L159.81,333.49 L160.77,335.27 L161.72,336.97 L162.67,338.58 L163.62,340.12 L164.58,341.58 L165.53,342.96 L166.48,344.26 L167.44,345.48 L168.39,346.63 L169.34,347.71 L170.29,348.72 L171.25,349.67 L172.20,350.55 L173.15,351.37 L174.10,352.13 L175.06,352.84 L176.01,353.50 L176.96,354.11 L177.91,354.68 L178.87,355.20 L179.82,355.68 L180.77,356.13 L181.72,356.54 L182.68,356.92 L183.63,357.27 L184.58,357.60 L185.53,357.89 L186.49,358.17 L187.44,358.42 L188.39,358.65 L189.34,358.86 L190.30,359.06 L191.25,359.24 L192.20,359.40 L193.15,359.55 L194.11,359.69 L195.06,359.82 L196.01,359.94 L196.96,360.04 L197.92,360.14 L198.87,360.23 L199.82,360.31 L200.77,360.39 L201.73,360.46 L202.68,360.52 L203.63,360.58 L204.58,360.63 L205.54,360.68 L206.49,360.73 L207.44,360.77 L208.39,360.81 L209.35,360.84 L210.30,360.87 L211.25,360.90 L212.20,360.93 L213.16,360.95 L214.11,360.97 L215.06,360.99 L216.01,361.01 L216.96,361.03 L217.92,361.04 L218.87,361.06 L219.82,361.07 L220.78,361.08 L221.73,361.09 L222.68,361.10 L223.63,361.11 L224.58,361.12 L225.54,361.13 L226.49,361.14 L227.44,361.14 L228.39,361.15 L229.35,361.15 L230.30,361.16" stroke="#5050c8" stroke-width="1.1" fill="none"/>
<path d="M39.80,260.41 L40.75,260.41 L41.71,260.41 L42.66,260.41 L43.61,260.41 L44.56,260.41 L45.52,260.41 L46.47,260.41 L47.42,260.41 L48.37,260.41 L49.32,260.41 L50.28,260.41 L51.23,260.41 L52.18,260.41 L53.14,260.41 L54.09,260.41 L55.04,260.41 L55.99,260.42 L56.95,260.42 L57.90,260.42 L58.85,260.42 L59.80,260.42 L60.75,260.42 L61.71,260.42 L62.66,260.42 L63.61,260.42 L64.56,260.43 L65.52,260.43 L66.47,260.43 L67.42,260.43 L68.38,260.43 L69.33,260.44 L70.28,260.44 L71.23,260.44 L72.18,260.44 L73.14,260.45 L74.09,260.45 L75.04,260.46 L76.00,260.46 L76.95,260.47 L77.90,260.47 L78.85,260.48 L79.81,260.48 L80.76,260.49 L81.71,260.50 L82.66,260.51 L83.61,260.52 L84.57,260.53 L85.52,260.54 L86.47,260.55 L87.42,260.57 L88.38,260.58 L89.33,260.60 L90.28,260.62 L91.24,260.64 L92.19,260.66 L93.14,260.68 L94.09,260.71 L95.04,260.74 L96.00,260.77 L96.95,260.80 L97.90,260.84 L98.85,260.88 L99.81,260.93 L100.76,260.98 L101.71,261.03 L102.67,261.09 L103.62,261.16 L104.57,261.23 L105.52,261.31 L106.48,261.39 L107.43,261.49 L108.38,261.59 L109.33,261.70 L110.28,261.82 L111.24,261.96 L112.19,262.11 L113.14,262.27 L114.10,262.44 L115.05,262.63 L116.00,262.84 L116.95,263.07 L117.91,263.32 L118.86,263.59 L119.81,263.88 L120.76,264.20 L121.71,264.55 L122.67,264.93 L123.62,265.35 L124.57,265.80 L125.53,266.28 L126.48,266.81 L127.43,267.39 L128.38,268.01 L129.34,268.67 L130.29,269.40 L131.24,270.18 L132.19,271.02 L133.14,271.92 L134.10,272.88 L135.05,273.92 L136.00,275.03 L136.96,276.21 L137.91,277.46 L138.86,278.80 L139.81,280.21 L140.76,281.70 L141.72,283.28 L142.67,284.93 L143.62,286.66 L144.57,288.46 L145.53,290.34 L146.48,292.29 L147.43,294.30 L148.38,296.37 L149.34,298.49 L150.29,300.65 L151.24,302.86 L152.19,305.09 L153.15,307.33 L154.10,309.59 L155.05,311.85 L156.00,314.10 L156.96,316.33 L157.91,318.53 L158.86,320.69 L159.81,322.81 L160.77,324.88 L161.72,326.89 L162.67,328.84 L163.62,330.72 L164.58,332.53 L165.53,334.26 L166.48,335.91 L167.44,337.48 L168.39,338.97 L169.34,340.39 L170.29,341.72 L171.25,342.98 L172.20,344.16 L173.15,345.26 L174.10,346.30 L175.06,347.27 L176.01,348.17 L176.96,349.01 L177.91,349.79 L178.87,350.51 L179.82,351.18 L180.77,351.80 L181.72,352.37 L182.68,352.90 L183.63,353.39 L184.58,353.84 L185.53,354.25 L186.49,354.63 L187.44,354.98 L188.39,355.30 L189.34,355.60 L190.30,355.87 L191.25,356.12 L192.20,356.34 L193.15,356.55 L194.11,356.74 L195.06,356.92 L196.01,357.08 L196.96,357.23 L197.92,357.36 L198.87,357.48 L199.82,357.59 L200.77,357.70 L201.73,357.79 L202.68,357.88 L203.63,357.95 L204.58,358.03 L205.54,358.09 L206.49,358.15 L207.44,358.21 L208.39,358.26 L209.35,358.30 L210.30,358.34 L211.25,358.38 L212.20,358.42 L213.16,358.45 L214.11,358.48 L215.06,358.50 L216.01,358.53 L216.96,358.55 L217.92,358.57 L218.87,358.59 L219.82,358.60 L220.78,358.62 L221.73,358.63 L222.68,358.64 L223.63,358.66 L224.58,358.67 L225.54,358.68 L226.49,358.68 L227.44,358.69 L228.39,358.70 L229.35,358.71 L230.30,358.71" stroke="#c84e56" stroke-width="1.1" fill="none"/>
<path d="M39.80,247.76 V252.40 M37.20,247.76 H42.40 M37.20,252.40 H42.40" stroke="#1414d0" stroke-width="1" fill="none"/>
<rect x="36.90" y="247.18" width="5.8" height="5.8" fill="#1414d0"/>
<path d="M67.01,245.68 V254.49 M64.41,245.68 H69.61 M64.41,254.49 H69.61" stroke="#1414d0" stroke-width="1" fill="none"/>
<rect x="64.11" y="247.18" width="5.8" height="5.8" fill="#1414d0"/>
<path d="M94.23,253.10 V266.32 M91.63,253.10 H96.83 M91.63,266.32 H96.83" stroke="#1414d0" stroke-width="1" fill="none"/>
<rect x="91.33" y="256.81" width="5.8" height="5.8" fill="#1414d0"/>
<path d="M121.44,268.64 V284.88 M118.84,268.64 H124.04 M118.84,284.88 H124.04" stroke="#1414d0" stroke-width="1" fill="none"/>
<rect x="118.54" y="273.86" width="5.8" height="5.8" fill="#1414d0"/>
<path d="M148.66,300.78 V319.34 M146.06,300.78 H151.26 M146.06,319.34 H151.26" stroke="#1414d0" stroke-width="1" fill="none"/>
<rect x="145.76" y="307.16" width="5.8" height="5.8" fill="#1414d0"/>
<path d="M175.87,341.14 V353.21 M173.27,341.14 H178.47 M173.27,353.21 H178.47" stroke="#1414d0" stroke-width="1" fill="none"/>
<rect x="172.97" y="344.28" width="5.8" height="5.8" fill="#1414d0"/>
<path d="M203.09,354.95 V364.23 M200.49,354.95 H205.69 M200.49,364.23 H205.69" stroke="#1414d0" stroke-width="1" fill="none"/>
<rect x="200.19" y="356.69" width="5.8" height="5.8" fill="#1414d0"/>
<path d="M230.30,367.94 V370.26 M227.70,367.94 H232.90 M227.70,370.26 H232.90" stroke="#1414d0" stroke-width="1" fill="none"/>
<rect x="227.40" y="366.20" width="5.8" height="5.8" fill="#1414d0"/>
<path d="M39.80,248.34 V257.16 M37.20,248.34 H42.40 M37.20,257.16 H42.40" stroke="#ea1420" stroke-width="1" fill="none"/>
<circle cx="39.80" cy="252.75" r="3.0" fill="#ea1420"/>
<path d="M67.01,251.01 V264.47 M64.41,251.01 H69.61 M64.41,264.47 H69.61" stroke="#ea1420" stroke-width="1" fill="none"/>
<circle cx="67.01" cy="257.74" r="3.0" fill="#ea1420"/>
<path d="M94.23,258.67 V269.11 M91.63,258.67 H96.83 M91.63,269.11 H96.83" stroke="#ea1420" stroke-width="1" fill="none"/>
<circle cx="94.23" cy="263.89" r="3.0" fill="#ea1420"/>
<path d="M121.44,266.44 V283.84 M118.84,266.44 H124.04 M118.84,283.84 H124.04" stroke="#ea1420" stroke-width="1" fill="none"/>
<circle cx="121.44" cy="275.14" r="3.0" fill="#ea1420"/>
<path d="M148.66,292.19 V311.91 M146.06,292.19 H151.26 M146.06,311.91 H151.26" stroke="#ea1420" stroke-width="1" fill="none"/>
<circle cx="148.66" cy="302.05" r="3.0" fill="#ea1420"/>
<path d="M175.87,326.53 V344.62 M173.27,326.53 H178.47 M173.27,344.62 H178.47" stroke="#ea1420" stroke-width="1" fill="none"/>
<circle cx="175.87" cy="335.58" r="3.0" fill="#ea1420"/>
<path d="M203.09,353.09 V365.39 M200.49,353.09 H205.69 M200.49,365.39 H205.69" stroke="#ea1420" stroke-width="1" fill="none"/>
<circle cx="203.09" cy="359.24" r="3.0" fill="#ea1420"/>
<path d="M230.30,363.30 V367.94 M227.70,363.30 H232.90 M227.70,367.94 H232.90" stroke="#ea1420" stroke-width="1" fill="none"/>
<circle cx="230.30" cy="365.62" r="3.0" fill="#ea1420"/>
<path d="M45.50,344.30 H59.50" stroke="#b04048" stroke-width="1.1"/>
<circle cx="52.50" cy="344.30" r="3.0" fill="#ea1420"/>
<text x="66.40" y="347.50" font-size="10.3" fill="#111"><tspan font-style="italic">IDH1/2</tspan>-mutated</text>
<path d="M45.50,359.10 H59.50" stroke="#3c3cb0" stroke-width="1.1"/>
<rect x="49.60" y="356.20" width="5.8" height="5.8" fill="#1414d0"/>
<text x="66.40" y="362.30" font-size="10.3" fill="#111"><tspan font-style="italic">IDH1/2</tspan> wild-type</text>
<text x="274" y="223.9" font-size="14.3" font-weight="bold" fill="#111">D</text>
<text x="418.45" y="224.60" font-size="10.4" text-anchor="middle" fill="#111">decitabine</text>
<path d="M323.10,241.61 V369.10 H514.40" stroke="#1e1e1e" stroke-width="1.15" fill="none"/>
<path d="M319.10,369.10 H323.10" stroke="#1e1e1e" stroke-width="1.15"/>
<text x="317.50" y="372.60" font-size="10" text-anchor="end" fill="#111">0</text>
<path d="M319.10,311.15 H323.10" stroke="#1e1e1e" stroke-width="1.15"/>
<text x="317.50" y="314.65" font-size="10" text-anchor="end" fill="#111">50</text>
<path d="M319.10,253.20 H323.10" stroke="#1e1e1e" stroke-width="1.15"/>
<text x="317.50" y="256.70" font-size="10" text-anchor="end" fill="#111">100</text>
<path d="M323.10,369.10 V373.10" stroke="#1e1e1e" stroke-width="1.15"/>
<text x="322.70" y="383.60" font-size="10" text-anchor="middle" fill="#111">-10</text>
<path d="M350.34,369.10 V373.10" stroke="#1e1e1e" stroke-width="1.15"/>
<text x="349.94" y="383.60" font-size="10" text-anchor="middle" fill="#111">-9</text>
<path d="M377.59,369.10 V373.10" stroke="#1e1e1e" stroke-width="1.15"/>
<text x="377.19" y="383.60" font-size="10" text-anchor="middle" fill="#111">-8</text>
<path d="M404.83,369.10 V373.10" stroke="#1e1e1e" stroke-width="1.15"/>
<text x="404.43" y="383.60" font-size="10" text-anchor="middle" fill="#111">-7</text>
<path d="M432.07,369.10 V373.10" stroke="#1e1e1e" stroke-width="1.15"/>
<text x="431.67" y="383.60" font-size="10" text-anchor="middle" fill="#111">-6</text>
<path d="M459.31,369.10 V373.10" stroke="#1e1e1e" stroke-width="1.15"/>
<text x="458.91" y="383.60" font-size="10" text-anchor="middle" fill="#111">-5</text>
<path d="M486.56,369.10 V373.10" stroke="#1e1e1e" stroke-width="1.15"/>
<text x="486.16" y="383.60" font-size="10" text-anchor="middle" fill="#111">-4</text>
<path d="M513.80,369.10 V373.10" stroke="#1e1e1e" stroke-width="1.15"/>
<text x="513.40" y="383.60" font-size="10" text-anchor="middle" fill="#111">-3</text>
<text x="418.45" y="397.30" font-size="10.5" text-anchor="middle" fill="#111">Log<tspan font-size="7" dy="2">10</tspan><tspan dy="-2">[decitabine], mol/l</tspan></text>
<text transform="translate(292.9,305.36) rotate(-90)" font-size="10.3" text-anchor="middle" fill="#111">Percent survival</text>
<path d="M323.10,254.29 L324.05,254.29 L325.01,254.29 L325.96,254.30 L326.91,254.30 L327.87,254.31 L328.82,254.31 L329.77,254.32 L330.73,254.32 L331.68,254.33 L332.63,254.34 L333.59,254.34 L334.54,254.35 L335.50,254.36 L336.45,254.37 L337.40,254.38 L338.36,254.39 L339.31,254.40 L340.26,254.41 L341.22,254.43 L342.17,254.44 L343.12,254.46 L344.08,254.47 L345.03,254.49 L345.98,254.51 L346.94,254.53 L347.89,254.56 L348.84,254.58 L349.80,254.61 L350.75,254.64 L351.71,254.67 L352.66,254.70 L353.61,254.74 L354.57,254.78 L355.52,254.82 L356.47,254.86 L357.43,254.91 L358.38,254.97 L359.33,255.02 L360.29,255.08 L361.24,255.15 L362.19,255.22 L363.15,255.30 L364.10,255.38 L365.05,255.47 L366.01,255.56 L366.96,255.66 L367.91,255.78 L368.87,255.89 L369.82,256.02 L370.77,256.16 L371.73,256.31 L372.68,256.46 L373.64,256.63 L374.59,256.82 L375.54,257.01 L376.50,257.22 L377.45,257.45 L378.40,257.69 L379.36,257.94 L380.31,258.22 L381.26,258.51 L382.22,258.83 L383.17,259.16 L384.12,259.52 L385.08,259.90 L386.03,260.31 L386.98,260.74 L387.94,261.20 L388.89,261.68 L389.85,262.20 L390.80,262.74 L391.75,263.32 L392.71,263.93 L393.66,264.57 L394.61,265.24 L395.57,265.95 L396.52,266.69 L397.47,267.47 L398.43,268.28 L399.38,269.13 L400.33,270.01 L401.29,270.92 L402.24,271.87 L403.19,272.84 L404.15,273.85 L405.10,274.89 L406.05,275.95 L407.01,277.03 L407.96,278.14 L408.92,279.26 L409.87,280.40 L410.82,281.56 L411.78,282.72 L412.73,283.89 L413.68,285.07 L414.64,286.24 L415.59,287.41 L416.54,288.57 L417.50,289.72 L418.45,290.86 L419.40,291.98 L420.36,293.08 L421.31,294.16 L422.26,295.21 L423.22,296.24 L424.17,297.24 L425.12,298.20 L426.08,299.14 L427.03,300.04 L427.98,300.91 L428.94,301.75 L429.89,302.55 L430.85,303.32 L431.80,304.05 L432.75,304.75 L433.71,305.41 L434.66,306.05 L435.61,306.64 L436.57,307.21 L437.52,307.75 L438.47,308.26 L439.43,308.73 L440.38,309.18 L441.33,309.61 L442.29,310.01 L443.24,310.38 L444.19,310.73 L445.15,311.06 L446.10,311.37 L447.05,311.66 L448.01,311.93 L448.96,312.18 L449.92,312.42 L450.87,312.64 L451.82,312.84 L452.78,313.03 L453.73,313.21 L454.68,313.38 L455.64,313.53 L456.59,313.68 L457.54,313.81 L458.50,313.94 L459.45,314.05 L460.40,314.16 L461.36,314.26 L462.31,314.36 L463.26,314.44 L464.22,314.52 L465.17,314.60 L466.12,314.67 L467.08,314.73 L468.03,314.79 L468.99,314.85 L469.94,314.90 L470.89,314.95 L471.85,314.99 L472.80,315.03 L473.75,315.07 L474.71,315.11 L475.66,315.14 L476.61,315.17 L477.57,315.20 L478.52,315.22 L479.47,315.25 L480.43,315.27 L481.38,315.29 L482.33,315.31 L483.29,315.33 L484.24,315.34 L485.19,315.36 L486.15,315.37 L487.10,315.39 L488.06,315.40 L489.01,315.41 L489.96,315.42 L490.92,315.43 L491.87,315.44 L492.82,315.45 L493.78,315.46 L494.73,315.46 L495.68,315.47 L496.64,315.48 L497.59,315.48 L498.54,315.49 L499.50,315.49 L500.45,315.50 L501.40,315.50 L502.36,315.51 L503.31,315.51 L504.26,315.51 L505.22,315.52 L506.17,315.52 L507.13,315.52 L508.08,315.52 L509.03,315.53 L509.99,315.53 L510.94,315.53 L511.89,315.53 L512.85,315.53 L513.80,315.53" stroke="#5050c8" stroke-width="1.1" fill="none"/>
<path d="M323.10,252.52 L324.05,252.53 L325.01,252.54 L325.96,252.55 L326.91,252.56 L327.87,252.57 L328.82,252.59 L329.77,252.60 L330.73,252.62 L331.68,252.64 L332.63,252.66 L333.59,252.68 L334.54,252.70 L335.50,252.73 L336.45,252.75 L337.40,252.78 L338.36,252.81 L339.31,252.84 L340.26,252.88 L341.22,252.91 L342.17,252.96 L343.12,253.00 L344.08,253.05 L345.03,253.10 L345.98,253.15 L346.94,253.21 L347.89,253.27 L348.84,253.34 L349.80,253.41 L350.75,253.49 L351.71,253.57 L352.66,253.66 L353.61,253.76 L354.57,253.87 L355.52,253.98 L356.47,254.10 L357.43,254.23 L358.38,254.36 L359.33,254.51 L360.29,254.67 L361.24,254.84 L362.19,255.02 L363.15,255.22 L364.10,255.42 L365.05,255.65 L366.01,255.88 L366.96,256.14 L367.91,256.41 L368.87,256.70 L369.82,257.01 L370.77,257.33 L371.73,257.68 L372.68,258.05 L373.64,258.45 L374.59,258.86 L375.54,259.30 L376.50,259.77 L377.45,260.27 L378.40,260.79 L379.36,261.34 L380.31,261.91 L381.26,262.52 L382.22,263.16 L383.17,263.82 L384.12,264.52 L385.08,265.25 L386.03,266.01 L386.98,266.79 L387.94,267.61 L388.89,268.45 L389.85,269.33 L390.80,270.22 L391.75,271.15 L392.71,272.09 L393.66,273.06 L394.61,274.05 L395.57,275.05 L396.52,276.07 L397.47,277.10 L398.43,278.14 L399.38,279.18 L400.33,280.23 L401.29,281.28 L402.24,282.32 L403.19,283.36 L404.15,284.40 L405.10,285.42 L406.05,286.43 L407.01,287.42 L407.96,288.39 L408.92,289.34 L409.87,290.27 L410.82,291.18 L411.78,292.06 L412.73,292.91 L413.68,293.73 L414.64,294.53 L415.59,295.30 L416.54,296.03 L417.50,296.74 L418.45,297.41 L419.40,298.06 L420.36,298.67 L421.31,299.26 L422.26,299.82 L423.22,300.35 L424.17,300.85 L425.12,301.32 L426.08,301.77 L427.03,302.19 L427.98,302.59 L428.94,302.97 L429.89,303.33 L430.85,303.66 L431.80,303.97 L432.75,304.27 L433.71,304.54 L434.66,304.80 L435.61,305.04 L436.57,305.27 L437.52,305.48 L438.47,305.68 L439.43,305.87 L440.38,306.04 L441.33,306.20 L442.29,306.35 L443.24,306.49 L444.19,306.62 L445.15,306.75 L446.10,306.86 L447.05,306.97 L448.01,307.07 L448.96,307.16 L449.92,307.24 L450.87,307.32 L451.82,307.40 L452.78,307.47 L453.73,307.53 L454.68,307.59 L455.64,307.65 L456.59,307.70 L457.54,307.74 L458.50,307.79 L459.45,307.83 L460.40,307.87 L461.36,307.91 L462.31,307.94 L463.26,307.97 L464.22,308.00 L465.17,308.02 L466.12,308.05 L467.08,308.07 L468.03,308.09 L468.99,308.11 L469.94,308.13 L470.89,308.15 L471.85,308.16 L472.80,308.18 L473.75,308.19 L474.71,308.21 L475.66,308.22 L476.61,308.23 L477.57,308.24 L478.52,308.25 L479.47,308.26 L480.43,308.26 L481.38,308.27 L482.33,308.28 L483.29,308.29 L484.24,308.29 L485.19,308.30 L486.15,308.30 L487.10,308.31 L488.06,308.31 L489.01,308.32 L489.96,308.32 L490.92,308.32 L491.87,308.33 L492.82,308.33 L493.78,308.33 L494.73,308.33 L495.68,308.34 L496.64,308.34 L497.59,308.34 L498.54,308.34 L499.50,308.35 L500.45,308.35 L501.40,308.35 L502.36,308.35 L503.31,308.35 L504.26,308.35 L505.22,308.35 L506.17,308.35 L507.13,308.36 L508.08,308.36 L509.03,308.36 L509.99,308.36 L510.94,308.36 L511.89,308.36 L512.85,308.36 L513.80,308.36" stroke="#c84e56" stroke-width="1.1" fill="none"/>
<path d="M323.10,245.90 V255.17 M320.50,245.90 H325.70 M320.50,255.17 H325.70" stroke="#1414d0" stroke-width="1" fill="none"/>
<rect x="320.20" y="247.63" width="5.8" height="5.8" fill="#1414d0"/>
<path d="M350.34,248.22 V260.73 M347.74,248.22 H352.94 M347.74,260.73 H352.94" stroke="#1414d0" stroke-width="1" fill="none"/>
<rect x="347.44" y="251.57" width="5.8" height="5.8" fill="#1414d0"/>
<path d="M377.59,253.32 V263.98 M374.99,253.32 H380.19 M374.99,263.98 H380.19" stroke="#1414d0" stroke-width="1" fill="none"/>
<rect x="374.69" y="255.75" width="5.8" height="5.8" fill="#1414d0"/>
<path d="M404.83,269.89 V281.94 M402.23,269.89 H407.43 M402.23,281.94 H407.43" stroke="#1414d0" stroke-width="1" fill="none"/>
<rect x="401.93" y="273.02" width="5.8" height="5.8" fill="#1414d0"/>
<path d="M432.07,292.84 V304.89 M429.47,292.84 H434.67 M429.47,304.89 H434.67" stroke="#1414d0" stroke-width="1" fill="none"/>
<rect x="429.17" y="295.96" width="5.8" height="5.8" fill="#1414d0"/>
<path d="M459.31,305.93 V319.84 M456.71,305.93 H461.91 M456.71,319.84 H461.91" stroke="#1414d0" stroke-width="1" fill="none"/>
<rect x="456.41" y="309.99" width="5.8" height="5.8" fill="#1414d0"/>
<path d="M486.56,317.76 V320.07 M483.96,317.76 H489.16 M483.96,320.07 H489.16" stroke="#1414d0" stroke-width="1" fill="none"/>
<rect x="483.66" y="316.02" width="5.8" height="5.8" fill="#1414d0"/>
<path d="M513.80,313.00 V320.89 M511.20,313.00 H516.40 M511.20,320.89 H516.40" stroke="#1414d0" stroke-width="1" fill="none"/>
<rect x="510.90" y="314.05" width="5.8" height="5.8" fill="#1414d0"/>
<path d="M323.10,252.50 V262.01 M320.50,252.50 H325.70 M320.50,262.01 H325.70" stroke="#ea1420" stroke-width="1" fill="none"/>
<circle cx="323.10" cy="257.26" r="3.0" fill="#ea1420"/>
<path d="M350.34,246.71 V261.78 M347.74,246.71 H352.94 M347.74,261.78 H352.94" stroke="#ea1420" stroke-width="1" fill="none"/>
<circle cx="350.34" cy="254.24" r="3.0" fill="#ea1420"/>
<path d="M377.59,243.81 V257.26 M374.99,243.81 H380.19 M374.99,257.26 H380.19" stroke="#ea1420" stroke-width="1" fill="none"/>
<circle cx="377.59" cy="250.53" r="3.0" fill="#ea1420"/>
<path d="M404.83,279.74 V294.58 M402.23,279.74 H407.43 M402.23,294.58 H407.43" stroke="#ea1420" stroke-width="1" fill="none"/>
<circle cx="404.83" cy="287.16" r="3.0" fill="#ea1420"/>
<path d="M432.07,306.17 V319.38 M429.47,306.17 H434.67 M429.47,319.38 H434.67" stroke="#ea1420" stroke-width="1" fill="none"/>
<circle cx="432.07" cy="312.77" r="3.0" fill="#ea1420"/>
<path d="M459.31,300.26 V311.85 M456.71,300.26 H461.91 M456.71,311.85 H461.91" stroke="#ea1420" stroke-width="1" fill="none"/>
<circle cx="459.31" cy="306.05" r="3.0" fill="#ea1420"/>
<path d="M486.56,305.70 V311.27 M483.96,305.70 H489.16 M483.96,311.27 H489.16" stroke="#ea1420" stroke-width="1" fill="none"/>
<circle cx="486.56" cy="308.48" r="3.0" fill="#ea1420"/>
<path d="M513.80,300.60 V306.63 M511.20,300.60 H516.40 M511.20,306.63 H516.40" stroke="#ea1420" stroke-width="1" fill="none"/>
<circle cx="513.80" cy="303.62" r="3.0" fill="#ea1420"/>
<path d="M328.80,344.30 H342.80" stroke="#b04048" stroke-width="1.1"/>
<circle cx="335.80" cy="344.30" r="3.0" fill="#ea1420"/>
<text x="349.70" y="347.50" font-size="10.3" fill="#111"><tspan font-style="italic">IDH1/2</tspan>-mutated</text>
<path d="M328.80,359.10 H342.80" stroke="#3c3cb0" stroke-width="1.1"/>
<rect x="332.90" y="356.20" width="5.8" height="5.8" fill="#1414d0"/>
<text x="349.70" y="362.30" font-size="10.3" fill="#111"><tspan font-style="italic">IDH1/2</tspan> wild-type</text>
</svg>
</body></html>
